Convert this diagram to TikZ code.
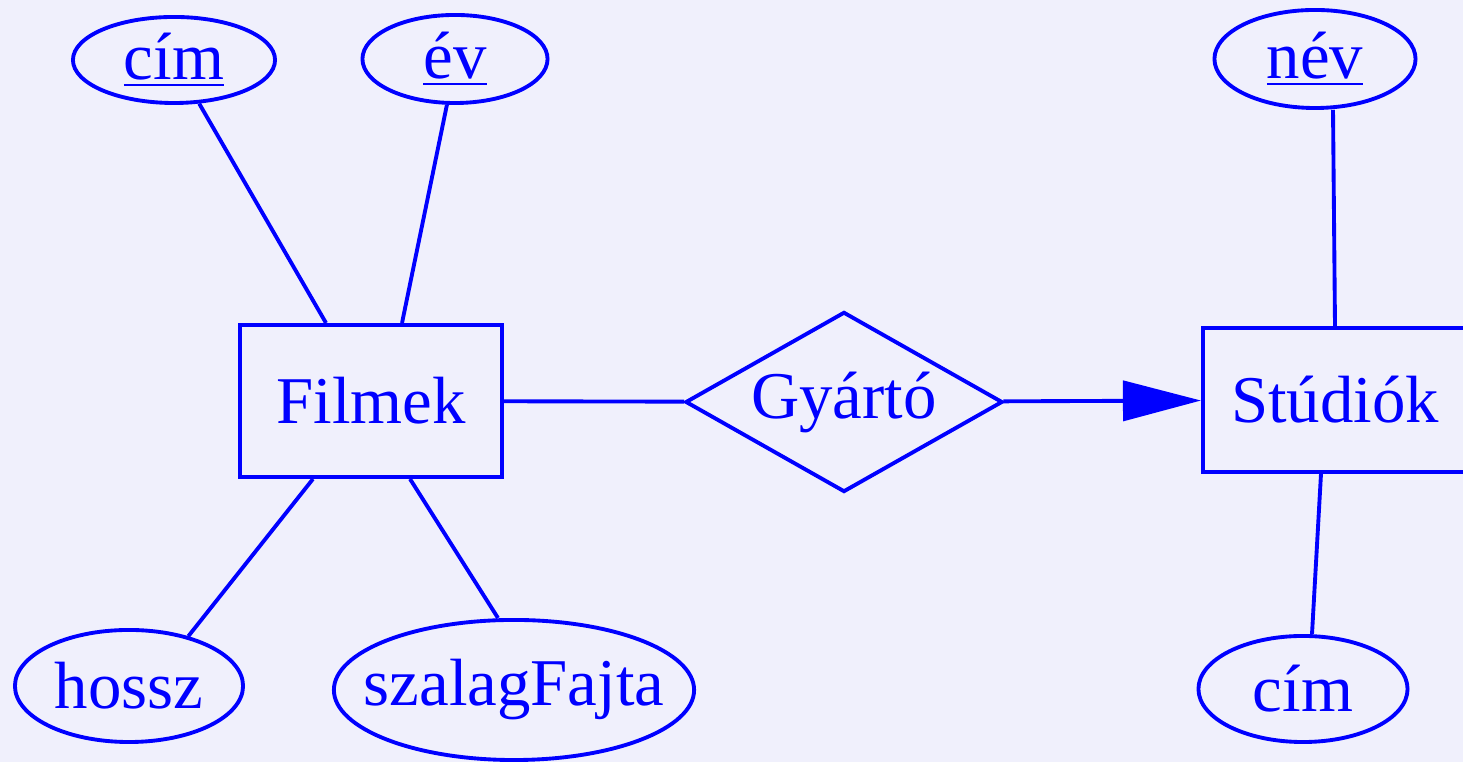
\documentclass[tikz,border=0pt]{standalone}
\usepackage{fontspec}
\setmainfont{Liberation Serif}
\usepackage{xcolor}
\usetikzlibrary{shapes.geometric}
\usetikzlibrary{arrows.meta}
\usetikzlibrary{positioning}

\definecolor{bglav}{RGB}{240,240,252}
\definecolor{erblue}{RGB}{0,0,255}

\begin{document}
\begin{tikzpicture}[x=0.01cm, y=-0.01cm,
  font=\fontsize{19}{23}\selectfont,
  every node/.style={erblue, inner sep=0pt},
  attr/.style={draw, ellipse, line width=1.1pt},
  entity/.style={draw, rectangle, line width=1.1pt},
  rel/.style={draw, diamond, line width=1.1pt, aspect=1.76},
  link/.style={draw, erblue, line width=1.1pt},
  >={Triangle[length=7.8mm, width=4mm]}]

\fill[bglav] (0,0) rectangle (1463,762);
\useasboundingbox (0,0) rectangle (1463,762);

\node[entity, minimum width=2.62cm, minimum height=1.52cm] (1) at (371,401) {Filmek};
\node[rel, minimum width=3.17cm, minimum height=1.80cm] (2) at (844,402) {Gyártó};
\node[entity, minimum width=2.64cm, minimum height=1.44cm] (3) at (1335,400) {Stúdiók};
\node[attr, minimum width=2.02cm, minimum height=0.86cm] (4) at (174,60) {\underline{cím}};
\node[attr, minimum width=1.85cm, minimum height=0.88cm] (5) at (455,59) {\underline{év}};
\node[attr, minimum width=2.28cm, minimum height=1.12cm] (6) at (129,686) {hossz};
\node[attr, inner xsep=-0.3cm, minimum width=3.60cm, minimum height=1.40cm] (7) at (514,690) {szalagFajta};
\node[attr, minimum width=2.01cm, minimum height=0.98cm] (8) at (1315,59) {\underline{név}};
\node[attr, minimum width=2.09cm, minimum height=1.06cm] (9) at (1303,689) {cím};

\path[link] (4) -- (1);
\path[link] (5.-100) -- ([xshift=3.1mm]1.north);
\path[link] (6.40) -- ([xshift=-5.8mm]1.south);
\path[link] ([xshift=-1.6mm]7.north) -- ([xshift=3.9mm]1.south);
\path[link] (1) -- (2);
\path[link, ->] (2) -- (3);
\path[link] ([xshift=1.8mm]8.south) -- (3.north);
\path[link] ([xshift=0.9mm]9.north) -- ([xshift=-1.4mm]3.south);

\end{tikzpicture}
\end{document}
